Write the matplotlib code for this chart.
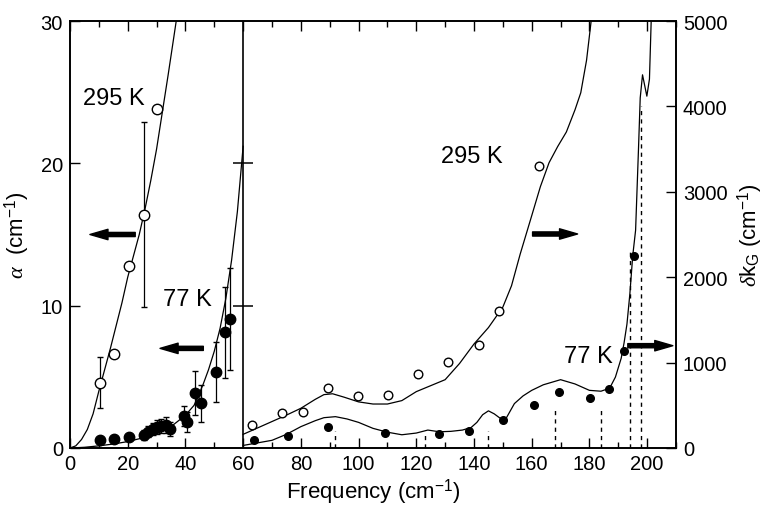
import matplotlib
matplotlib.use("Agg")
import matplotlib.pyplot as plt

plt.rcParams['font.family'] = 'Liberation Sans'
plt.rcParams['mathtext.fontset'] = 'custom'
plt.rcParams['mathtext.rm'] = 'Liberation Sans'
plt.rcParams['mathtext.it'] = 'Liberation Serif:italic'

# ---- left panel: absorption alpha (cm^-1) ----
f295_left = [10.4, 15.4, 20.6, 25.5, 30.3]
a295_left = [4.6, 6.6, 12.8, 16.4, 23.8]
e295_left = [1.8, 0, 0, 6.5, 0]

f77_left = [10.4, 15.4, 20.6, 25.5, 27.2, 28.9, 30.3, 31.7, 33.2, 34.7,
            39.4, 40.7, 43.4, 45.4, 50.6, 53.6, 55.3]
a77_left = [0.56, 0.61, 0.8, 0.94, 1.15, 1.33, 1.45, 1.57, 1.62, 1.33,
            2.27, 1.8, 3.87, 3.16, 5.36, 8.13, 9.07]
e77_left = [0, 0, 0, 0.35, 0.4, 0.45, 0.5, 0.5, 0.55, 0.5,
            0.7, 0.7, 1.55, 1.3, 2.1, 3.2, 3.6]

fit295_f = [0, 2, 4, 6, 8, 10, 12, 14, 16, 18, 20, 22, 24, 26, 28, 30,
            32, 34, 36, 37.4]
fit295_a = [0, 0.15, 0.6, 1.3, 2.4, 4.0, 5.5, 7.0, 8.6, 10.2, 12.0, 13.5,
            15.0, 16.8, 18.8, 21.0, 23.6, 26.2, 28.9, 30.8]

fit77_f = [0, 5, 10, 15, 20, 25, 30, 35, 40, 43, 46, 48, 50, 52, 54, 56,
           58, 60]
fit77_a = [0, 0.05, 0.15, 0.28, 0.45, 0.7, 1.0, 1.5, 2.3, 3.0, 4.4, 5.5,
           6.8, 8.4, 10.5, 13.2, 16.6, 21.2]

# ---- right panel: delta k_G (cm^-1) ----
f295_right = [63.1, 73.5, 80.7, 89.3, 99.8, 110.3, 120.7, 131.1, 141.6,
              148.5, 162.6]
k295_right = [269, 410, 425, 706, 613, 625, 866, 1003, 1206, 1604, 3306]

f77_right = [63.9, 75.6, 89.3, 109, 127.7, 138.3, 150.2, 160.7, 169.3,
             180.2, 186.7, 191.9, 195.4]
k77_right = [94, 140, 250, 172, 164, 195, 328, 504, 652, 585, 687, 1132,
             2245]

fitk295_f = [60, 65, 70, 75, 80, 85, 88, 91, 95, 100, 105, 110, 115, 120,
             125, 130, 135, 140, 145, 150, 153, 156, 160, 163, 166, 169,
             172, 175, 177, 179, 180.6]
fitk295_k = [160, 235, 310, 385, 465, 570, 625, 635, 595, 540, 515, 515,
             555, 660, 730, 800, 990, 1218, 1410, 1650, 1900, 2270, 2720,
             3060, 3340, 3530, 3700, 3960, 4160, 4540, 5000]

fitk77_f = [60, 65, 70, 75, 80, 85, 88, 92, 96, 100, 105, 110, 115, 120,
            124, 128, 132, 136, 139, 141, 143, 145, 147, 149, 151, 154,
            157, 160, 164, 170, 175, 180, 184, 187, 189, 191, 192, 193,
            194, 195, 196, 197, 197.6, 198.4, 199.9, 200.8, 201.4]
fitk77_k = [30, 60, 90, 160, 250, 320, 355, 367, 340, 300, 230, 185, 155,
            175, 210, 190, 195, 210, 240, 300, 390, 435, 400, 350, 340,
            520, 610, 675, 740, 800, 750, 675, 665, 700, 830, 1050, 1230,
            1450, 1800, 2250, 2550, 3500, 4100, 4370, 4120, 4320, 5000]

mode_f = [92, 123, 145, 168, 184, 194, 198]
mode_top = [200, 150, 200, 480, 480, 2300, 4000]

fig = plt.figure(figsize=(7.68, 5.1), dpi=100)
ax = fig.add_axes([70/768, 61/510, 606/768, 427/510])
ax2 = ax.twinx()

# left panel
ax.plot(fit295_f, fit295_a, color='k', lw=0.9)
ax.plot(fit77_f, fit77_a, color='k', lw=0.9)
ax.errorbar(f295_left, a295_left, yerr=e295_left, fmt='o', mfc='white',
            mec='k', mew=1, ms=7.5, ecolor='k', elinewidth=0.9, capsize=2.5,
            zorder=3)
ax.errorbar(f77_left, a77_left, yerr=e77_left, fmt='o', color='k', ms=7.5,
            ecolor='k', elinewidth=0.9, capsize=2.5, zorder=3)
ax.axvline(60, color='k', lw=1.2)
ax.plot([60, 60], [10, 20], ls='none', marker='_', ms=14, mew=1.1,
        color='k')

# right panel
ax2.plot(fitk295_f, fitk295_k, color='k', lw=0.9)
ax2.plot(fitk77_f, fitk77_k, color='k', lw=0.9)
ax2.plot(f295_right, k295_right, 'o', mfc='white', mec='k', mew=1, ms=6.2)
ax2.plot(f77_right, k77_right, 'o', color='k', ms=5.5)
ax2.vlines(mode_f, 0, mode_top, colors='k', lw=1, linestyles=(0, (3, 3)))

# labels and arrows
ax.text(15.3, 24.6, '295 K', fontsize=17, ha='center', va='center')
ax.text(40.6, 10.5, '77 K', fontsize=17, ha='center', va='center')
ax2.text(139.2, 3419, '295 K', fontsize=17, ha='center', va='center')
ax2.text(179.5, 1077, '77 K', fontsize=17, ha='center', va='center')

arrow = dict(facecolor='k', edgecolor='k', width=3, headwidth=7.5,
             headlength=13, shrink=0)
ax.annotate('', xy=(6.9, 15.0), xytext=(22.6, 15.0), arrowprops=arrow)
ax.annotate('', xy=(31.2, 7.0), xytext=(46.2, 7.0), arrowprops=arrow)
ax2.annotate('', xy=(175.9, 2506), xytext=(160.3, 2506), arrowprops=arrow)
ax2.annotate('', xy=(208.9, 1198), xytext=(193.3, 1198), arrowprops=arrow)

# axes
ax.set_xlim(0, 210)
ax.set_ylim(0, 30)
ax2.set_ylim(0, 5000)
ax.set_xticks(range(0, 201, 20))
ax.set_xticks(range(0, 211, 10), minor=True)
ax.set_yticks([0, 10, 20, 30])
ax2.set_yticks(range(0, 5001, 1000))
ax.tick_params(axis='x', which='both', direction='in', top=True,
               labelsize=14.5, pad=4)
ax.tick_params(axis='x', which='major', length=7.5, width=1)
ax.tick_params(axis='x', which='minor', length=4, width=1)
ax.tick_params(axis='y', direction='in', length=7.5, width=1,
               labelsize=14.5, pad=5)
ax2.tick_params(axis='y', direction='in', length=7.5, width=1,
                labelsize=14.5, pad=5)
for a in (ax, ax2):
    for s in a.spines.values():
        s.set_linewidth(1.2)

ax.set_xlabel('Frequency (cm$^{-1}$)', fontsize=16, labelpad=3)
ax.set_ylabel(r'$\alpha$  (cm$^{-1}$)', fontsize=16, labelpad=6)
ax2.set_ylabel(r'$\delta$k$_\mathrm{G}$ (cm$^{-1}$)', fontsize=16,
               labelpad=6)

fig.savefig('out.png', dpi=100)
